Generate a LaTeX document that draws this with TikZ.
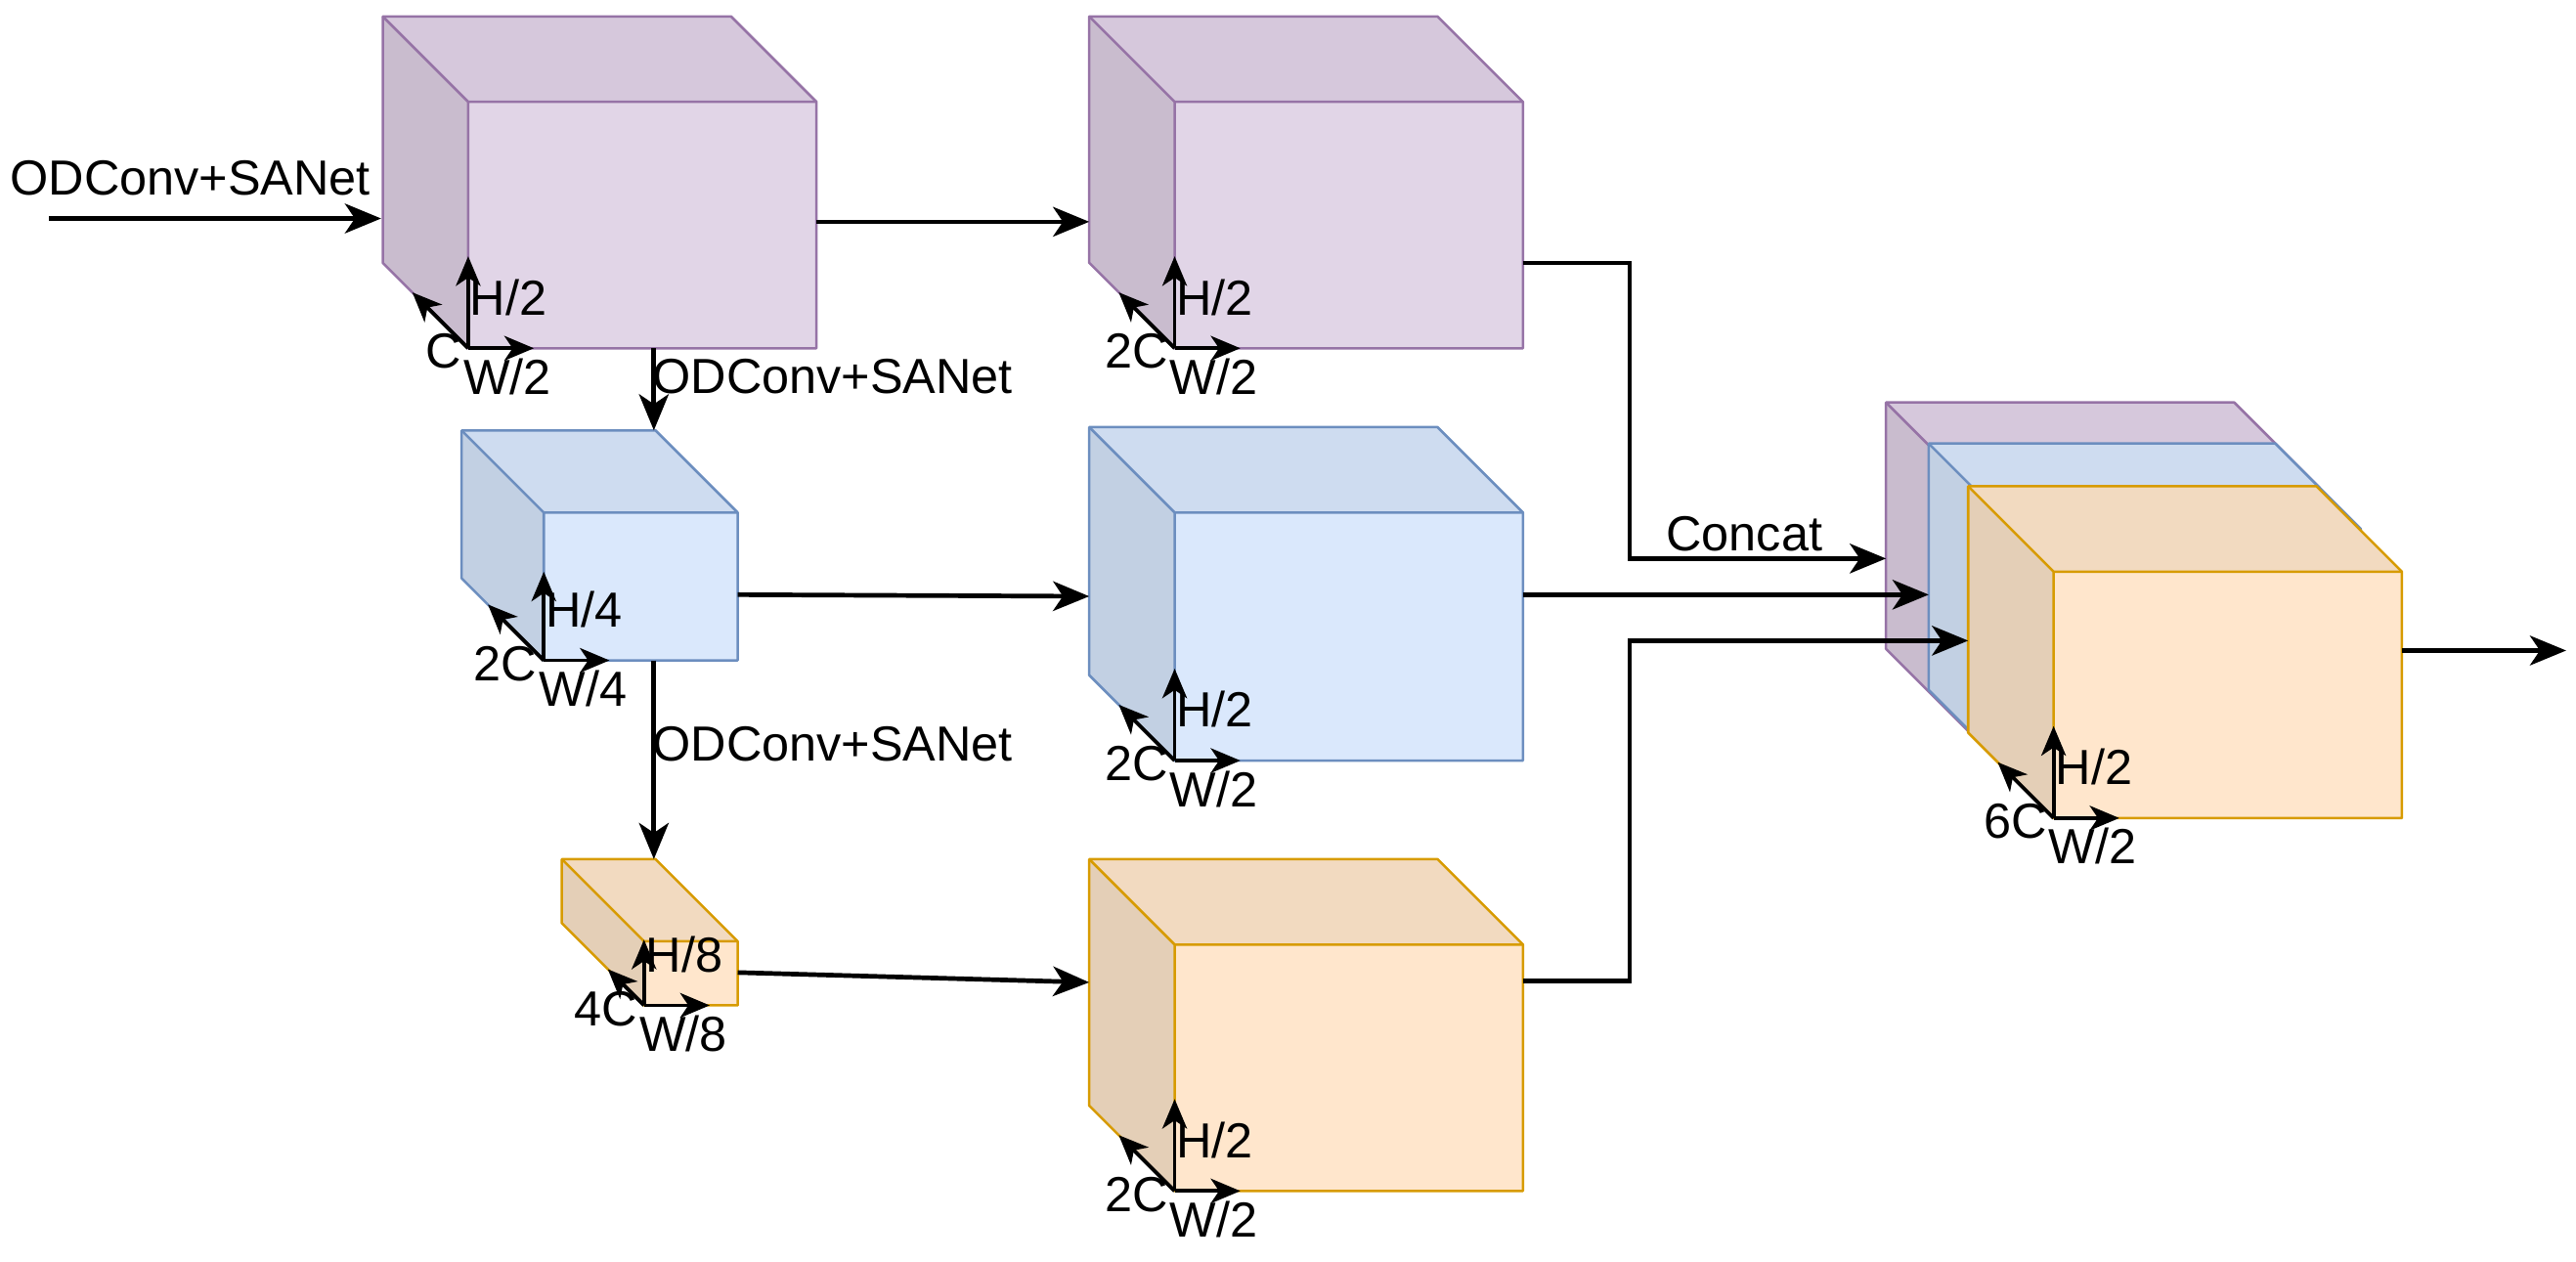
\documentclass[tikz,border=0pt]{standalone}
\usepackage{fontspec}
\setmainfont{Liberation Sans}
\usetikzlibrary{arrows.meta,calc}
\definecolor{pF}{HTML}{E1D5E7}\definecolor{pT}{HTML}{D6C8DC}\definecolor{pL}{HTML}{C9BCCE}\definecolor{pD}{HTML}{9673A6}
\definecolor{bF}{HTML}{DAE8FC}\definecolor{bT}{HTML}{CEDCF0}\definecolor{bL}{HTML}{C2D0E3}\definecolor{bD}{HTML}{6C8EBF}
\definecolor{oF}{HTML}{FFE6CC}\definecolor{oT}{HTML}{F2DAC0}\definecolor{oL}{HTML}{E4CFB7}\definecolor{oD}{HTML}{D79B00}
% \mycube{name}{x0}{y0}{x1}{y1}{d}{prefix}
\newcommand\mycube[7]{%
  \fill[#7T] (#2,#3) -- ({#4-#6},#3) -- (#4,{#3+#6}) -- ({#2+#6},{#3+#6}) -- cycle;
  \fill[#7L] (#2,#3) -- ({#2+#6},{#3+#6}) -- ({#2+#6},#5) -- (#2,{#5-#6}) -- cycle;
  \fill[#7F] ({#2+#6},{#3+#6}) rectangle (#4,#5);
  \draw[#7D,line width=1.5pt,line join=round] (#2,#3) -- ({#4-#6},#3) -- (#4,{#3+#6}) -- (#4,#5) -- ({#2+#6},#5) -- (#2,{#5-#6}) -- cycle;
  \draw[#7D,line width=1.5pt] (#2,#3) -- ({#2+#6},{#3+#6}) -- (#4,{#3+#6}) ({#2+#6},{#3+#6}) -- ({#2+#6},#5);
  \coordinate (#1o) at ({#2+#6},#5);
}
% \myaxes{name}{len}{diag}{Hlabel}{Clabel}{Wlabel}
\newcommand\myaxes[6]{%
  \coordinate (#1u) at ($(#1o)+(0,-#2)$);
  \coordinate (#1r) at ($(#1o)+(40,0)$);
  \coordinate (#1d) at ($(#1o)+(-#3,-#3)$);
  \draw[ax] (#1o) -- (#1u);
  \draw[ax] (#1o) -- (#1r);
  \draw[ax] (#1o) -- (#1d);
  \node[lbl,anchor=west] (#1H) at ($(#1o)+(0,-31)$) {#4};
  \node[lbl,anchor=east] (#1C) at ($(#1o)+(-3,2)$) {#5};
  \node[lbl,anchor=north west] (#1W) at ($(#1o)+(-4,5)$) {#6};
}
\begin{document}
\begin{tikzpicture}[x=1pt,y=-1pt,
  lbl/.style={font=\fontsize{30}{30}\selectfont,inner sep=1pt},
  arr/.style={line width=2.8pt,-{Stealth[length=22pt,width=18pt,inset=6pt]}},
  ax/.style={line width=2.3pt,-{Stealth[length=18pt,width=15pt,inset=5pt]}}]
\useasboundingbox (0,0) rectangle (1568,768);
\mycube{c1}{233}{10}{497}{212}{52}{p}
\mycube{c2}{663}{10}{927}{212}{52}{p}
\mycube{c3}{281}{262}{449}{402}{50}{b}
\mycube{c4}{663}{260}{927}{463}{52}{b}
\mycube{c5}{342}{523}{449}{612}{50}{o}
\mycube{c6}{663}{523}{927}{725}{52}{o}
\mycube{k1}{1148}{245}{1412}{447}{52}{p}
\mycube{k2}{1174}{270}{1437}{472}{52}{b}
\mycube{k3}{1198}{296}{1462}{498}{52}{o}
\myaxes{c1}{56}{34}{H/2}{C}{W/2}
\myaxes{c2}{56}{34}{H/2}{2C}{W/2}
\myaxes{c3}{54}{34}{H/4}{2C}{W/4}
\myaxes{c4}{56}{34}{H/2}{2C}{W/2}
\myaxes{c5}{40}{22}{H/8}{4C}{W/8}
\myaxes{c6}{56}{34}{H/2}{2C}{W/2}
\myaxes{k3}{56}{34}{H/2}{6C}{W/2}
\coordinate (in) at (30,133);
\coordinate (out) at (1562,396);
\draw[arr] (in) -- (232,133);
\node[lbl,anchor=south west] (t1) at (5,120) {ODConv+SANet};
\draw[arr] (497,135) -- (663,135);
\draw[arr] (398,212) -- (398,262);
\node[lbl,anchor=west] (t2) at (396,229) {ODConv+SANet};
\draw[arr] (449,362) -- (663,363);
\draw[arr] (398,402) -- (398,523);
\node[lbl,anchor=west] (t3) at (396,453) {ODConv+SANet};
\draw[arr] (449,592) -- (663,598);
\draw[arr] (927,160) -- (992,160) -- (992,340) -- (1148,340);
\node[lbl,anchor=south west] (t4) at (1013,337) {Concat};
\draw[arr] (927,362) -- (1174,362);
\draw[arr] (927,597) -- (992,597) -- (992,390) -- (1198,390);
\draw[arr] (1462,396) -- (out);
\end{tikzpicture}
\end{document}
